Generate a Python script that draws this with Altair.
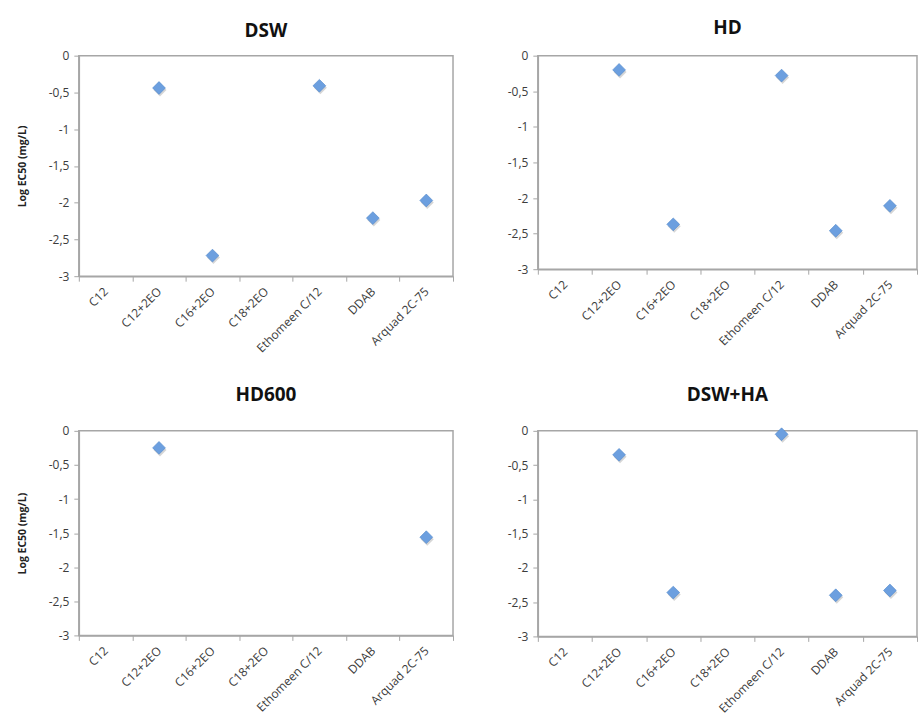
import altair as alt
import pandas as pd

# Surfactant categories along the x axis
CATEGORIES = ["C12", "C12+2EO", "C16+2EO", "C18+2EO", "Ethomeen C/12", "DDAB", "Arquad 2C-75"]

# Log EC50 (mg/L) per water type; None where no value was determined
DSW = [None, -0.44, -2.72, None, -0.41, -2.21, -1.97]
HD = [None, -0.20, -2.37, None, -0.28, -2.46, -2.11]
HD600 = [None, -0.25, None, None, None, None, -1.56]
DSW_HA = [None, -0.35, -2.36, None, -0.05, -2.40, -2.33]

Y_TICKS = [0, -0.5, -1, -1.5, -2, -2.5, -3]

FONT = "Open Sans"
AXIS_GREY = "#a6a6a6"
LABEL_GREY = "#3c3c3c"
DIAMOND = "#6c9fdf"


def panel(name, values, width, height, y_title, title_offset):
    df = pd.DataFrame({"category": CATEGORIES, "value": values}).dropna()

    x = alt.X(
        "category:N",
        sort=CATEGORIES,
        scale=alt.Scale(type="band", domain=CATEGORIES, paddingInner=0, paddingOuter=0),
        axis=alt.Axis(
            title=None,
            tickBand="extent",
            labelAngle=-45,
            labelAlign="right",
            labelBaseline="middle",
            labelPadding=8,
            tickSize=5,
        ),
    )
    y_axis = dict(
        values=Y_TICKS,
        labelExpr="replace(toString(datum.value), '.', ',')",
        tickSize=5,
        labelPadding=5,
        grid=False,
    )
    if y_title:
        y_axis.update(title=y_title, titlePadding=21, titleFontSize=10.5,
                      titleFontWeight="bold", titleFont=FONT, titleColor="#222")
    else:
        y_axis.update(title=None)
    y = alt.Y(
        "value:Q",
        scale=alt.Scale(domain=[-3, 0], nice=False, zero=False),
        axis=alt.Axis(**y_axis),
    )

    base = alt.Chart(df)
    shadow = base.mark_point(
        shape="diamond", filled=True, size=170, color="#000000",
        opacity=0.16, xOffset=1, yOffset=2,
    ).encode(x=x, y=y)
    pts = base.mark_point(
        shape="diamond", filled=True, size=165, fill=DIAMOND,
        stroke="#4f86c9", strokeWidth=0.6, opacity=1,
    ).encode(x=x, y=y)

    return alt.layer(shadow, pts).properties(
        width=width,
        height=height,
        title=alt.TitleParams(name, fontSize=19, fontWeight="bold", font=FONT,
                              color="#111111", anchor="middle", offset=title_offset),
    )


top = alt.hconcat(
    panel("DSW", DSW, 375, 221, "Log EC50 (mg/L)", 9),
    panel("HD", HD, 380, 214, None, 12),
    spacing=51,
)
bottom = alt.hconcat(
    panel("HD600", HD600, 375, 205, "Log EC50 (mg/L)", 20),
    panel("DSW+HA", DSW_HA, 380, 206, None, 20),
    spacing=51,
)

chart = (
    alt.vconcat(top, bottom, spacing=30)
    .properties(padding={"left": 16, "top": 17, "right": 0, "bottom": 0}, background="white")
    .configure_view(stroke=AXIS_GREY, strokeWidth=1.5)
    .configure_axis(
        domainColor=AXIS_GREY,
        domainWidth=1.5,
        tickColor=AXIS_GREY,
        tickWidth=1,
        labelFont=FONT,
        labelFontSize=12,
        labelColor=LABEL_GREY,
    )
)

chart.save("out.html", embed_options={"renderer": "svg", "actions": False})
